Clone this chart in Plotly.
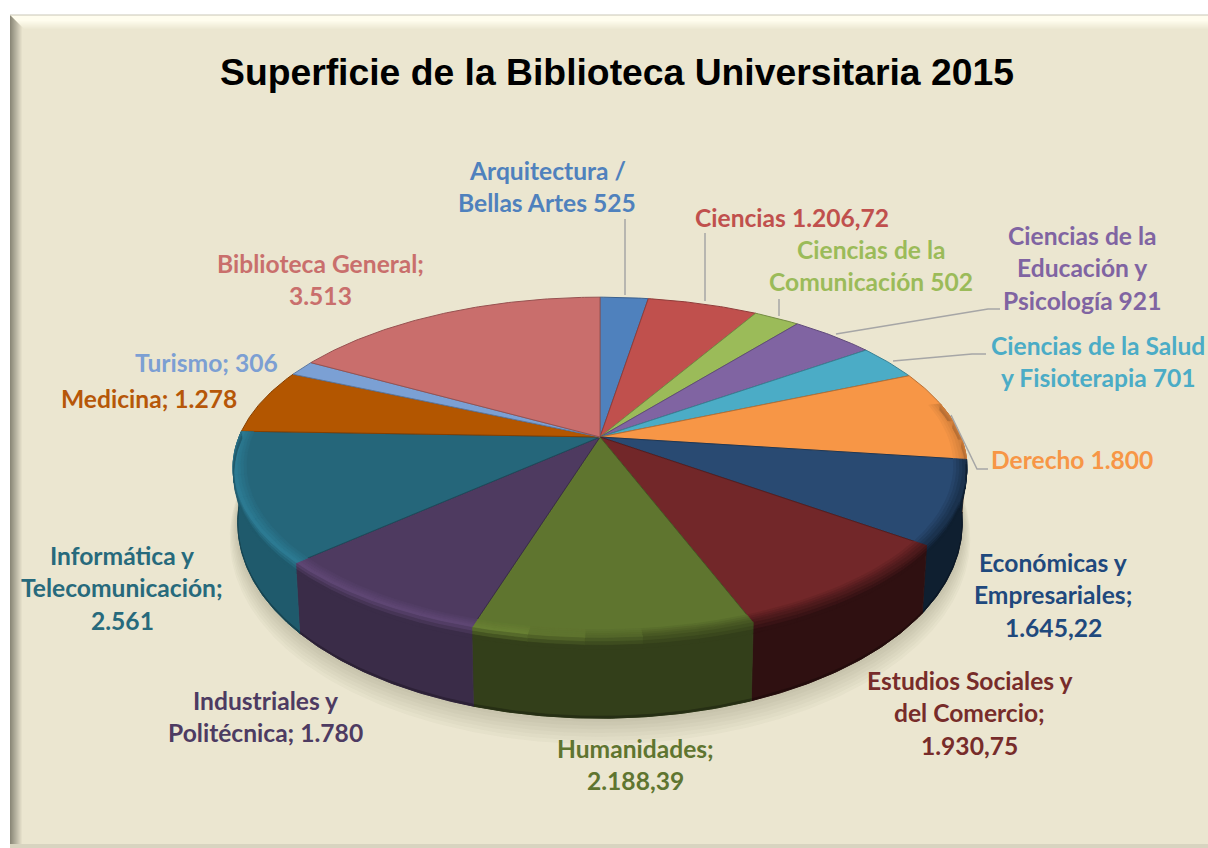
import math
import plotly.graph_objects as go

# ---- data ----
titles = ["Arquitectura / Bellas Artes", "Ciencias", "Ciencias de la Comunicación",
          "Ciencias de la Educación y Psicología", "Ciencias de la Salud y Fisioterapia",
          "Derecho", "Económicas y Empresariales", "Estudios Sociales y del Comercio",
          "Humanidades", "Industriales y Politécnica", "Informática y Telecomunicación",
          "Medicina", "Turismo", "Biblioteca General"]
values = [525, 1206.72, 502, 921, 701, 1800, 1645.22, 1930.75, 2188.39, 1780, 2561, 1278, 306, 3513]
top_colors = ["#4F81BD", "#C0504D", "#9BBB59", "#8064A2", "#4BACC6", "#F79646", "#294A72",
              "#722729", "#5F752F", "#4E3A60", "#25667A", "#B35600", "#7BA0D4", "#C96E6C"]
wall_colors = ["#3A5F8C", "#8E3B39", "#728A42", "#5F4A78", "#387F92", "#B76F34", "#0F1F30",
               "#2F1011", "#333F1A", "#3A2C48", "#1F5A6C", "#843F00", "#5B769C", "#955150"]
label_colors = ["#4F81BD", "#C0504D", "#9BBB59", "#8064A2", "#4BACC6", "#F79646", "#1F497D",
                "#772C2A", "#5F7530", "#4D3B62", "#276A7C", "#B65708", "#7C9FD3", "#C96F6C"]
label_lines = [["Arquitectura /", "Bellas Artes 525"], ["Ciencias 1.206,72"],
               ["Ciencias de la", "Comunicación 502"],
               ["Ciencias de la", "Educación y", "Psicología 921"],
               ["Ciencias de la Salud", "y Fisioterapia 701"], ["Derecho 1.800"],
               ["Económicas y", "Empresariales;", "1.645,22"],
               ["Estudios Sociales y", "del Comercio;", "1.930,75"],
               ["Humanidades;", "2.188,39"], ["Industriales y", "Politécnica; 1.780"],
               ["Informática y", "Telecomunicación;", "2.561"],
               ["Medicina; 1.278"], ["Turismo; 306"], ["Biblioteca General;", "3.513"]]
label_x = [547, 792, 871, 1082, 1098, 1072, 1053, 969, 635, 265, 122, 149, 206, 320]
label_y = [170, 217, 249, 235, 345, 459, 562, 680, 748, 700, 555, 398, 362, 263]
leaders = [[(625, 219), (625, 295)], [(705, 233), (705, 301)], [(779, 299), (779, 316)],
           [(836, 334), (988, 309), (1000, 309)], [(893, 361), (972, 354), (986, 354)],
           [(951, 415), (977, 469), (988, 469)]]
chart_title = "Superficie de la Biblioteca Universitaria 2015"

# ---- pie geometry ----
CX, CY, A, B, K = 600, 437, 361, 165, 0.18
LINE_H = 32.5


def hex2rgb(c):
    return tuple(int(c[i:i + 2], 16) for i in (1, 3, 5))


def mix(c1, c2, t):
    a, b = hex2rgb(c1), hex2rgb(c2)
    return "#%02X%02X%02X" % tuple(round(a[i] + (b[i] - a[i]) * t) for i in range(3))


def brighten(c, f):
    return "#%02X%02X%02X" % tuple(min(255, round(v * f)) for v in hex2rgb(c))


def pt(theta, r=1.0, frac=0.0):
    x, y = r * math.sin(theta), r * math.cos(theta)
    w = 1 + K * y
    px = CX + A * x / w
    py = CY - B * y / w
    depth = 50 - 30 * y
    return CX + (px - CX) * (1 - 0.013 * frac), py + depth * frac


def arc(t0, t1, r=1.0, frac=0.0, step=0.01):
    n = max(2, int(abs(t1 - t0) / step) + 1)
    return [pt(t0 + (t1 - t0) * i / (n - 1), r, frac) for i in range(n)]


fig = go.Figure()


def poly(points, fill, line=None, width=1):
    fig.add_trace(go.Scatter(
        x=[p[0] for p in points] + [points[0][0]],
        y=[p[1] for p in points] + [points[0][1]],
        mode="lines", fill="toself", fillcolor=fill,
        line=dict(color=line or fill, width=width if line else 0.8),
        hoverinfo="skip", showlegend=False))


total = sum(values)
bounds = [0.0]
for v in values:
    bounds.append(bounds[-1] + v / total * 2 * math.pi)

# soft shadow under the disc
for i in range(7, 0, -1):
    s = 1 + i * 0.0035
    poly(arc(math.radians(80), math.radians(285), s, 1.0 + i * 0.034) + [(CX, CY + 40)],
         "rgba(110,105,80,0.04)", "rgba(0,0,0,0)")

W0, W1 = math.radians(78), math.radians(271.9)
# walls
for i in range(len(values)):
    t0, t1 = max(bounds[i], W0), min(bounds[i + 1], W1)
    if t1 <= t0:
        continue
    poly(arc(t0, t1, 1, 0.0) + arc(t1, t0, 1, 1.0), wall_colors[i])
    poly(arc(t0, t1, 1, 0.975) + arc(t1, t0, 1, 1.0), mix(wall_colors[i], "#000000", 0.25))

# top faces
for i in range(len(values)):
    edge = mix(top_colors[i], "#000000", 0.25)
    poly([(CX, CY)] + arc(bounds[i], bounds[i + 1]), top_colors[i], edge, 1)


def rim_color(i, theta):
    t = min(1, max(0, (math.degrees(theta) - 170) / 30))
    dark = mix(top_colors[i], wall_colors[i], 0.55)
    light = brighten(top_colors[i], 1.2)
    return mix(dark, light, t)


# rounded bevel around the front rim, split along the arc
bands = [0.965, 0.973, 0.981, 0.989, 1.0]
wall_fracs = [0.0, 0.045, 0.09, 0.14]
seg = math.radians(7)
for i in range(len(values)):
    t0, t1 = max(bounds[i], W0), min(bounds[i + 1], W1)
    if t1 <= t0:
        continue
    n = max(1, round((t1 - t0) / seg))
    for j in range(n):
        a0 = t0 + (t1 - t0) * j / n
        a1 = t0 + (t1 - t0) * (j + 1) / n
        rc = rim_color(i, (a0 + a1) / 2)
        for b in range(len(bands) - 1):
            c = mix(top_colors[i], rc, (b + 1) / (len(bands) - 1))
            poly(arc(a0, a1, bands[b]) + arc(a1, a0, bands[b + 1]), c)
        for b in range(len(wall_fracs) - 1):
            c = mix(rc, wall_colors[i], (b + 1) / (len(wall_fracs) - 1))
            poly(arc(a0, a1, 1, wall_fracs[b]) + arc(a1, a0, 1, wall_fracs[b + 1]), c)

# leader lines
for seg_pts in leaders:
    fig.add_trace(go.Scatter(x=[p[0] for p in seg_pts], y=[p[1] for p in seg_pts], mode="lines",
                             line=dict(color="#A6A6A6", width=1.5), hoverinfo="skip", showlegend=False))

# labels
for lines, lx, ly, col in zip(label_lines, label_x, label_y, label_colors):
    for n, txt in enumerate(lines):
        fig.add_annotation(x=lx, y=ly + n * LINE_H, text=txt, showarrow=False,
                           xanchor="center", yanchor="middle",
                           font=dict(family="Lato", size=24.6, color=col, weight="bold"))

fig.add_annotation(x=617, y=72, text=chart_title, showarrow=False, xanchor="center", yanchor="middle",
                   font=dict(family="Liberation Sans", size=37.3, color="#000000", weight="bold"))

# framed background with bevel
FX, FY, FR, FB = 10, 15, 1208, 846
BG = "#EBE6D0"
shapes = [dict(type="rect", x0=FX, y0=FY, x1=FR, y1=FB, fillcolor=BG, line_width=0, layer="below")]
N = 14
for i in range(N):
    tl = i / N
    c_top = mix("#FFFDEE", BG, max(0, tl - 0.35) / 0.65)
    shapes.append(dict(type="path", layer="below", line_width=0, fillcolor=c_top,
                       path=f"M {FX + i} {FY + i} L {FR} {FY + i} L {FR} {FY + i + 1} L {FX + i + 1} {FY + i + 1} Z"))
    c_left = mix("#8B8878", BG, min(1, tl / 0.85))
    shapes.append(dict(type="path", layer="below", line_width=0, fillcolor=c_left,
                       path=f"M {FX + i} {FY + i} L {FX + i + 1} {FY + i + 1} L {FX + i + 1} {FB} L {FX + i} {FB} Z"))
shapes.append(dict(type="line", x0=FX, x1=FR, y0=FY, y1=FY, line=dict(color="#C9C6B6", width=1), layer="below"))
shapes.append(dict(type="rect", x0=FX, x1=FR, y0=FB - 2, y1=FB + 2, fillcolor="#D8D4C0", line_width=0, layer="below"))

fig.update_layout(
    width=1208, height=848, margin=dict(l=0, r=0, t=0, b=0),
    paper_bgcolor="#FFFFFF", plot_bgcolor="rgba(0,0,0,0)",
    xaxis=dict(range=[0, 1208], visible=False, fixedrange=True),
    yaxis=dict(range=[848, 0], visible=False, fixedrange=True),
    shapes=shapes, showlegend=False)

fig.write_html("out.html", config=dict(displayModeBar=False),
               post_script="document.body.style.margin='0';document.documentElement.style.overflow='hidden';")
